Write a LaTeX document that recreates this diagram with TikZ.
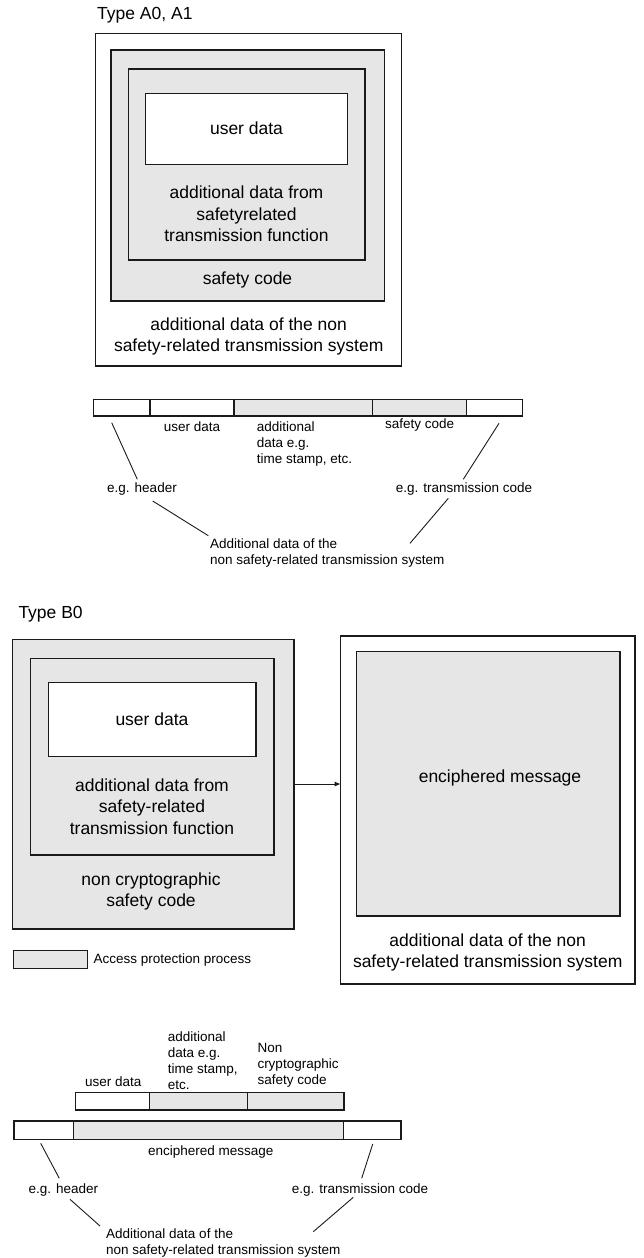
\documentclass[tikz,border=0pt]{standalone}
\usepackage{fontspec}
\setmainfont{Liberation Sans}
\usetikzlibrary{arrows.meta}
\definecolor{boxgray}{HTML}{E6E6E6}
\definecolor{linec}{HTML}{1A1A1A}
\tikzset{
  every node/.style={text=black},
  frame/.style={draw=linec, line width=1.3pt, inner sep=0pt, outer sep=0pt, anchor=north west, fill=#1},
  frame/.default=white,
  big/.style={font=\fontsize{17.5}{21.3}\selectfont, inner sep=0pt, align=center},
  small/.style={font=\fontsize{13.5}{16}\selectfont, inner sep=0pt},
  lead/.style={draw=linec, line width=0.9pt},
}
\newcommand{\boxat}[6]{\node[frame=#6, minimum width=#4pt, minimum height=#5pt] (#1) at (#2,#3) {};}
\begin{document}
\begin{tikzpicture}[x=1pt, y=-1pt]
\useasboundingbox (0,0) rectangle (644,1258);

% ===== Type A0, A1 =====
\node[big, anchor=west] (tA) at (97,15) {Type A0, A1};
\boxat{Aout}{95.7}{33.3}{306}{332.7}{white}
\boxat{Asafe}{111}{50}{273.3}{251}{boxgray}
\boxat{Aadd}{128.3}{69}{236.7}{191}{boxgray}
\boxat{Auser}{145.7}{93.3}{201.6}{71}{white}
\node[big] (tAuser) at (246.5,128.5) {user data};
\node[big] (tAadd) at (246.5,214) {additional data from\\safetyrelated\\transmission function};
\node[big] (tAsafe) at (247.5,280) {safety code};
\node[big] (tAout) at (248.7,336.7) {additional data of the non\\safety-related transmission system};

% ===== bar 1 =====
\boxat{P1}{93.3}{399.3}{56.7}{16.7}{white}
\boxat{P2}{150}{399.3}{84}{16.7}{white}
\boxat{P3}{234}{399.3}{138.7}{16.7}{boxgray}
\boxat{P4}{372.7}{399.3}{94}{16.7}{boxgray}
\boxat{P5}{466.7}{399.3}{56}{16.7}{white}
\node[small] (tP2) at (192,426.7) {user data};
\node[small, align=left, anchor=north west] (tP3) at (256.7,421.8) {additional\\data e.g.\\time stamp, etc.};
\node[small] (tP4) at (419.7,425) {safety code};
\node[small] (hdr1) at (142,489.3) {e.g. header};
\node[small] (trc1) at (464,489.3) {e.g. transmission code};
\node[small, align=left, anchor=north west] (add1) at (210,539) {Additional data of the\\non safety-related transmission system};
\coordinate (L1a) at (111.7,422.7); \coordinate (L1b) at (137.3,479.3);
\coordinate (L2a) at (152.7,501);   \coordinate (L2b) at (208.3,535.7);
\coordinate (R1a) at (499,423.3);   \coordinate (R1b) at (463.3,479.3);
\coordinate (R2a) at (448.3,498.3); \coordinate (R2b) at (410,543.3);
\draw[lead] (L1a) -- (L1b);
\draw[lead] (L2a) -- (L2b);
\draw[lead] (R1a) -- (R1b);
\draw[lead] (R2a) -- (R2b);

% ===== Type B0 =====
\node[big, anchor=west] (tB) at (18.3,614) {Type B0};
\boxat{Bout}{12.3}{639.3}{281.7}{289.7}{boxgray}
\boxat{Badd}{30.7}{658.3}{243.3}{196.7}{boxgray}
\boxat{Buser}{48.3}{682.7}{207.7}{74}{white}
\node[big] (tBuser) at (152,719.3) {user data};
\node[big] (tBadd) at (152,806.7) {additional data from\\safety-related\\transmission function};
\node[big] (tBout) at (151,891.7) {non cryptographic\\safety code};

\boxat{Cout}{340.7}{636}{294.3}{348}{white}
\boxat{Cenc}{356.7}{651.7}{263.3}{264.3}{boxgray}
\node[big] (tCenc) at (500,778.3) {enciphered message};
\node[big] (tCout) at (487.7,952.5) {additional data of the non\\safety-related transmission system};

\coordinate (arry) at (0,784);
\draw[draw=linec, line width=1pt, -{Latex[length=6pt,width=5pt]}] (Bout.east |- arry) -- (Cout.west |- arry);

% legend
\node[frame=boxgray, line width=1pt, minimum width=74pt, minimum height=18pt] (leg) at (13.3,950.7) {};
\node[small, anchor=west] (tleg) at (93.3,960) {Access protection process};

% ===== bar 2 =====
\boxat{Q1}{75.7}{1092.7}{73.6}{17.3}{white}
\boxat{Q2}{149.3}{1092.7}{98.4}{17.3}{boxgray}
\boxat{Q3}{247.7}{1092.7}{96.3}{17.3}{boxgray}
\boxat{S1}{14}{1121}{59.3}{18.3}{white}
\boxat{S2}{73.3}{1121}{270}{18.3}{boxgray}
\boxat{S3}{343.3}{1121}{57.7}{18.3}{white}
\node[small] (tQ1) at (113.3,1081.7) {user data};
\node[small, align=left, anchor=north west] (tQ2) at (167.7,1031.1) {additional\\data e.g.\\time stamp,\\etc.};
\node[small, align=left, anchor=north west] (tQ3) at (257.3,1042.8) {Non\\cryptographic\\safety code};
\node[small] (tS2) at (210.8,1151.7) {enciphered message};
\node[small] (hdr2) at (63.3,1190) {e.g. header};
\node[small] (trc2) at (360,1190) {e.g. transmission code};
\node[small, align=left, anchor=north west] (add2) at (106,1228.8) {Additional data of the\\non safety-related transmission system};
\coordinate (M1a) at (40.7,1143.3);  \coordinate (M1b) at (59.3,1178.3);
\coordinate (M2a) at (70,1199.3);    \coordinate (M2b) at (100,1226);
\coordinate (N1a) at (372.7,1144);   \coordinate (N1b) at (361.7,1178.3);
\coordinate (N2a) at (353.3,1197.3); \coordinate (N2b) at (313.3,1231.7);
\draw[lead] (M1a) -- (M1b);
\draw[lead] (M2a) -- (M2b);
\draw[lead] (N1a) -- (N1b);
\draw[lead] (N2a) -- (N2b);
\end{tikzpicture}
\end{document}
